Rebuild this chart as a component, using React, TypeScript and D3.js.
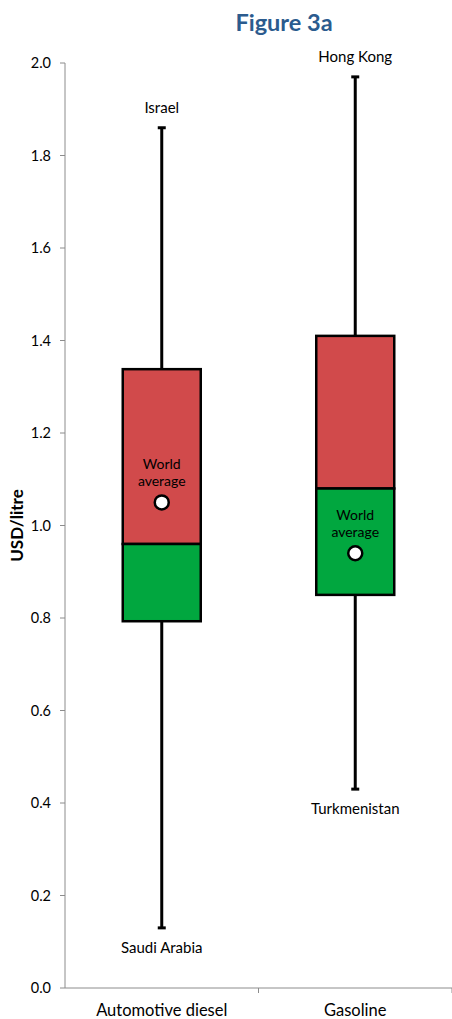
import React from "react";
import * as d3 from "d3";

const categories = ["Automotive diesel", "Gasoline"];
const maxValues = [1.86, 1.97];
const q3Values = [1.338, 1.41];
const medianValues = [0.96, 1.08];
const q1Values = [0.793, 0.85];
const minValues = [0.13, 0.43];
const averageValues = [1.05, 0.94];
const maxLabels = ["Israel", "Hong Kong"];
const minLabels = ["Saudi Arabia", "Turkmenistan"];
const yTicks = [0, 0.2, 0.4, 0.6, 0.8, 1.0, 1.2, 1.4, 1.6, 1.8, 2.0];

const W = 452;
const H = 1019;
const FONT = "Lato, 'Open Sans', sans-serif";

export default function App() {
  const y = d3.scaleLinear().domain([0, 2]).range([988, 63]);
  const x = d3.scaleBand().domain(categories).range([65, 452]).padding(0);
  const boxW = 78;
  const capW = 8;

  return (
    <svg width={W} height={H} style={{ position: "absolute", left: 0, top: 0 }}>
      <rect width={W} height={H} fill="#fff" />
      <text x={284} y={31} textAnchor="middle" fontFamily={FONT} fontWeight="bold" fontSize={23.5} fill="#2B5B8E">
        Figure 3a
      </text>
      {/* y axis */}
      <line x1={65} x2={65} y1={y(2)} y2={y(0)} stroke="#8c8c8c" strokeWidth={1} />
      {yTicks.map((t) => (
        <g key={t}>
          <line x1={60} x2={65} y1={y(t)} y2={y(t)} stroke="#8c8c8c" />
          <text x={51} y={y(t)} dy="0.35em" textAnchor="end" fontFamily={FONT} fontSize={14.5} fill="#000">
            {t.toFixed(1)}
          </text>
        </g>
      ))}
      <text
        transform={`translate(23,${y(1)}) rotate(-90)`}
        textAnchor="middle"
        fontFamily={FONT}
        fontWeight="bold"
        fontSize={17}
        fill="#000"
      >
        USD/litre
      </text>
      {/* x axis */}
      <line x1={65} x2={452} y1={y(0)} y2={y(0)} stroke="#8c8c8c" />
      {categories.map((c) => (
        <line key={c} x1={x(c)! + x.bandwidth()} x2={x(c)! + x.bandwidth()} y1={y(0)} y2={y(0) + 5} stroke="#8c8c8c" />
      ))}
      {categories.map((c) => (
        <text key={c} x={x(c)! + x.bandwidth() / 2} y={1016} textAnchor="middle" fontFamily={FONT} fontSize={16.5} fill="#000">
          {c}
        </text>
      ))}
      {/* boxes */}
      {categories.map((c, i) => {
        const cx = x(c)! + x.bandwidth() / 2;
        const left = cx - boxW / 2;
        const avgY = y(averageValues[i]);
        return (
          <g key={c}>
            <line x1={cx} x2={cx} y1={y(maxValues[i])} y2={y(q3Values[i])} stroke="#000" strokeWidth={3} />
            <line x1={cx} x2={cx} y1={y(q1Values[i])} y2={y(minValues[i])} stroke="#000" strokeWidth={3} />
            <line x1={cx - capW / 2} x2={cx + capW / 2} y1={y(maxValues[i])} y2={y(maxValues[i])} stroke="#000" strokeWidth={3} />
            <line x1={cx - capW / 2} x2={cx + capW / 2} y1={y(minValues[i])} y2={y(minValues[i])} stroke="#000" strokeWidth={3} />
            <rect x={left} width={boxW} y={y(q3Values[i])} height={y(medianValues[i]) - y(q3Values[i])} fill="#D14A4B" stroke="#000" strokeWidth={2.5} />
            <rect x={left} width={boxW} y={y(medianValues[i])} height={y(q1Values[i]) - y(medianValues[i])} fill="#01A73F" stroke="#000" strokeWidth={2.5} />
            <text x={cx} y={avgY - 33} textAnchor="middle" fontFamily={FONT} fontSize={14} fill="#000">World</text>
            <text x={cx} y={avgY - 16} textAnchor="middle" fontFamily={FONT} fontSize={14} fill="#000">average</text>
            <circle cx={cx} cy={avgY} r={7} fill="#fff" stroke="#000" strokeWidth={2.5} />
            <text x={cx} y={y(maxValues[i]) - 15} textAnchor="middle" fontFamily={FONT} fontSize={15} fill="#000">
              {maxLabels[i]}
            </text>
            <text x={cx} y={y(minValues[i]) + 25} textAnchor="middle" fontFamily={FONT} fontSize={15} fill="#000">
              {minLabels[i]}
            </text>
          </g>
        );
      })}
    </svg>
  );
}
